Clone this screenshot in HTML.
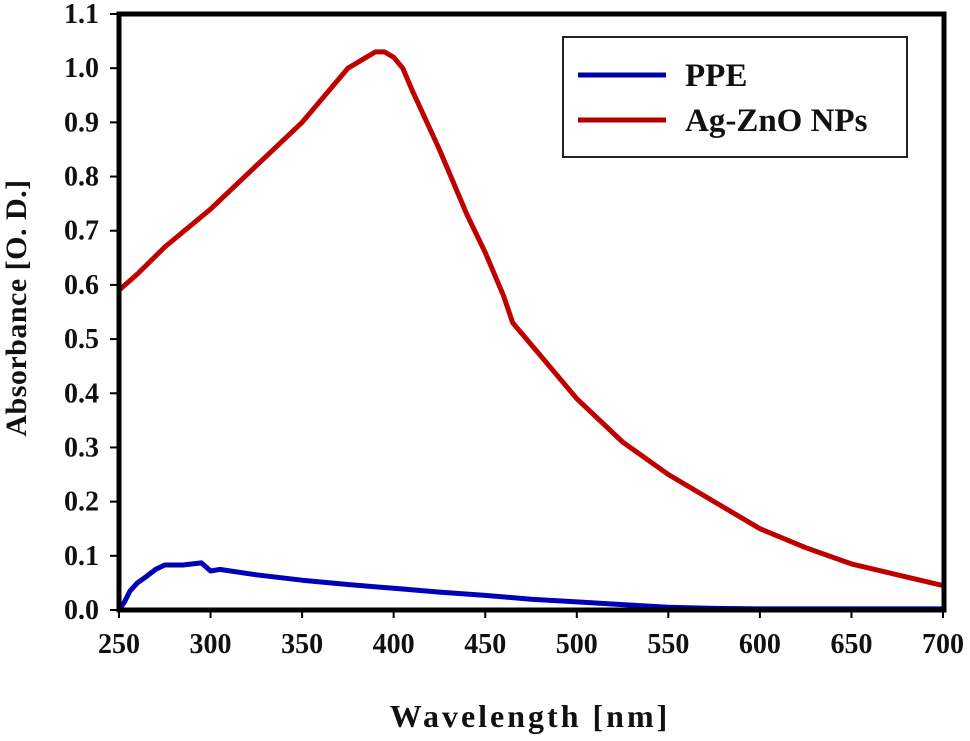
<!DOCTYPE html>
<html><head><meta charset="utf-8"><style>
body{margin:0;background:#fff;}
svg text{font-family:"Liberation Serif",serif;font-weight:bold;fill:#111;}
</style></head><body>
<svg width="970" height="736" viewBox="0 0 970 736" id="chart">
<rect x="0" y="0" width="970" height="736" fill="#fff"/>
<g id="series"></g>
<rect x="119" y="14" width="825" height="596" fill="none" stroke="#000" stroke-width="5"/>
<g id="ticks"></g>
<text x="530" y="727" text-anchor="middle" font-size="32" letter-spacing="3">Wavelength [nm]</text>
<text transform="translate(26,308) rotate(-90)" text-anchor="middle" font-size="30" letter-spacing="0.5">Absorbance [O. D.]</text>
<g>
<rect x="563" y="37" width="344" height="120" fill="#fff" stroke="#222" stroke-width="2"/>
<line x1="578" y1="75" x2="666" y2="75" stroke="#0000a8" stroke-width="5"/>
<text x="685" y="86" font-size="33">PPE</text>
<line x1="578" y1="120" x2="666" y2="120" stroke="#b00000" stroke-width="5"/>
<text x="685" y="131" font-size="33">Ag-ZnO NPs</text>
</g>
</svg>
<script>
const xTicks=[250,300,350,400,450,500,550,600,650,700];
const yTicks=[0,0.1,0.2,0.3,0.4,0.5,0.6,0.7,0.8,0.9,1.0,1.1];
const agX=[250,260,275,300,325,350,375,380,385,390,395,400,405,410,425,440,450,460,465,480,500,525,550,575,600,625,650,675,700];
const agY=[0.59,0.62,0.67,0.74,0.82,0.90,1.00,1.01,1.02,1.03,1.03,1.02,1.0,0.96,0.85,0.73,0.66,0.58,0.53,0.47,0.39,0.31,0.25,0.20,0.15,0.115,0.085,0.065,0.045];
const ppeX=[250,253,256,260,265,270,275,285,295,300,305,325,350,375,400,425,450,475,500,525,550,575,600,700];
const ppeY=[0,0.015,0.035,0.05,0.062,0.075,0.083,0.083,0.087,0.072,0.075,0.065,0.055,0.047,0.04,0.033,0.027,0.02,0.015,0.01,0.005,0.003,0.002,0.002];
const NS="http://www.w3.org/2000/svg";
function sx(v){return 119+(v-250)/450*824;}
function sy(v){return 610-v/1.1*596;}
const ticks=document.getElementById('ticks'),series=document.getElementById('series');
function mk(tag,attrs,parent){const e=document.createElementNS(NS,tag);for(const k in attrs)e.setAttribute(k,attrs[k]);parent.appendChild(e);return e;}
xTicks.forEach(v=>{
 const l=mk('line',{x1:sx(v),x2:sx(v),y1:610,y2:618,stroke:'#000','stroke-width':2},ticks);
 
 
 const t=mk('text',{x:sx(v),y:653,'text-anchor':'middle','font-size':28},ticks);
 t.textContent=v;
 
 
});
yTicks.forEach(v=>{
 const l=mk('line',{x1:110,x2:119,y1:sy(v),y2:sy(v),stroke:'#000','stroke-width':2},ticks);
 
 
 const t=mk('text',{x:99,y:sy(v)+9,'text-anchor':'end','font-size':28},ticks);
 t.textContent=v.toFixed(1);
 
 
});
function path(xs,ys,color,name){
 const d=xs.map((x,i)=>(i?'L':'M')+sx(x).toFixed(1)+','+sy(ys[i]).toFixed(1)).join('');
 const p=mk('path',{d:d,fill:'none',stroke:color,'stroke-width':5,'stroke-linejoin':'round'},series);
 
 
}
path(agX,agY,'#c00000','agzno-line');
path(ppeX,ppeY,'#0000b8','ppe-line');
</script>
</body></html>
